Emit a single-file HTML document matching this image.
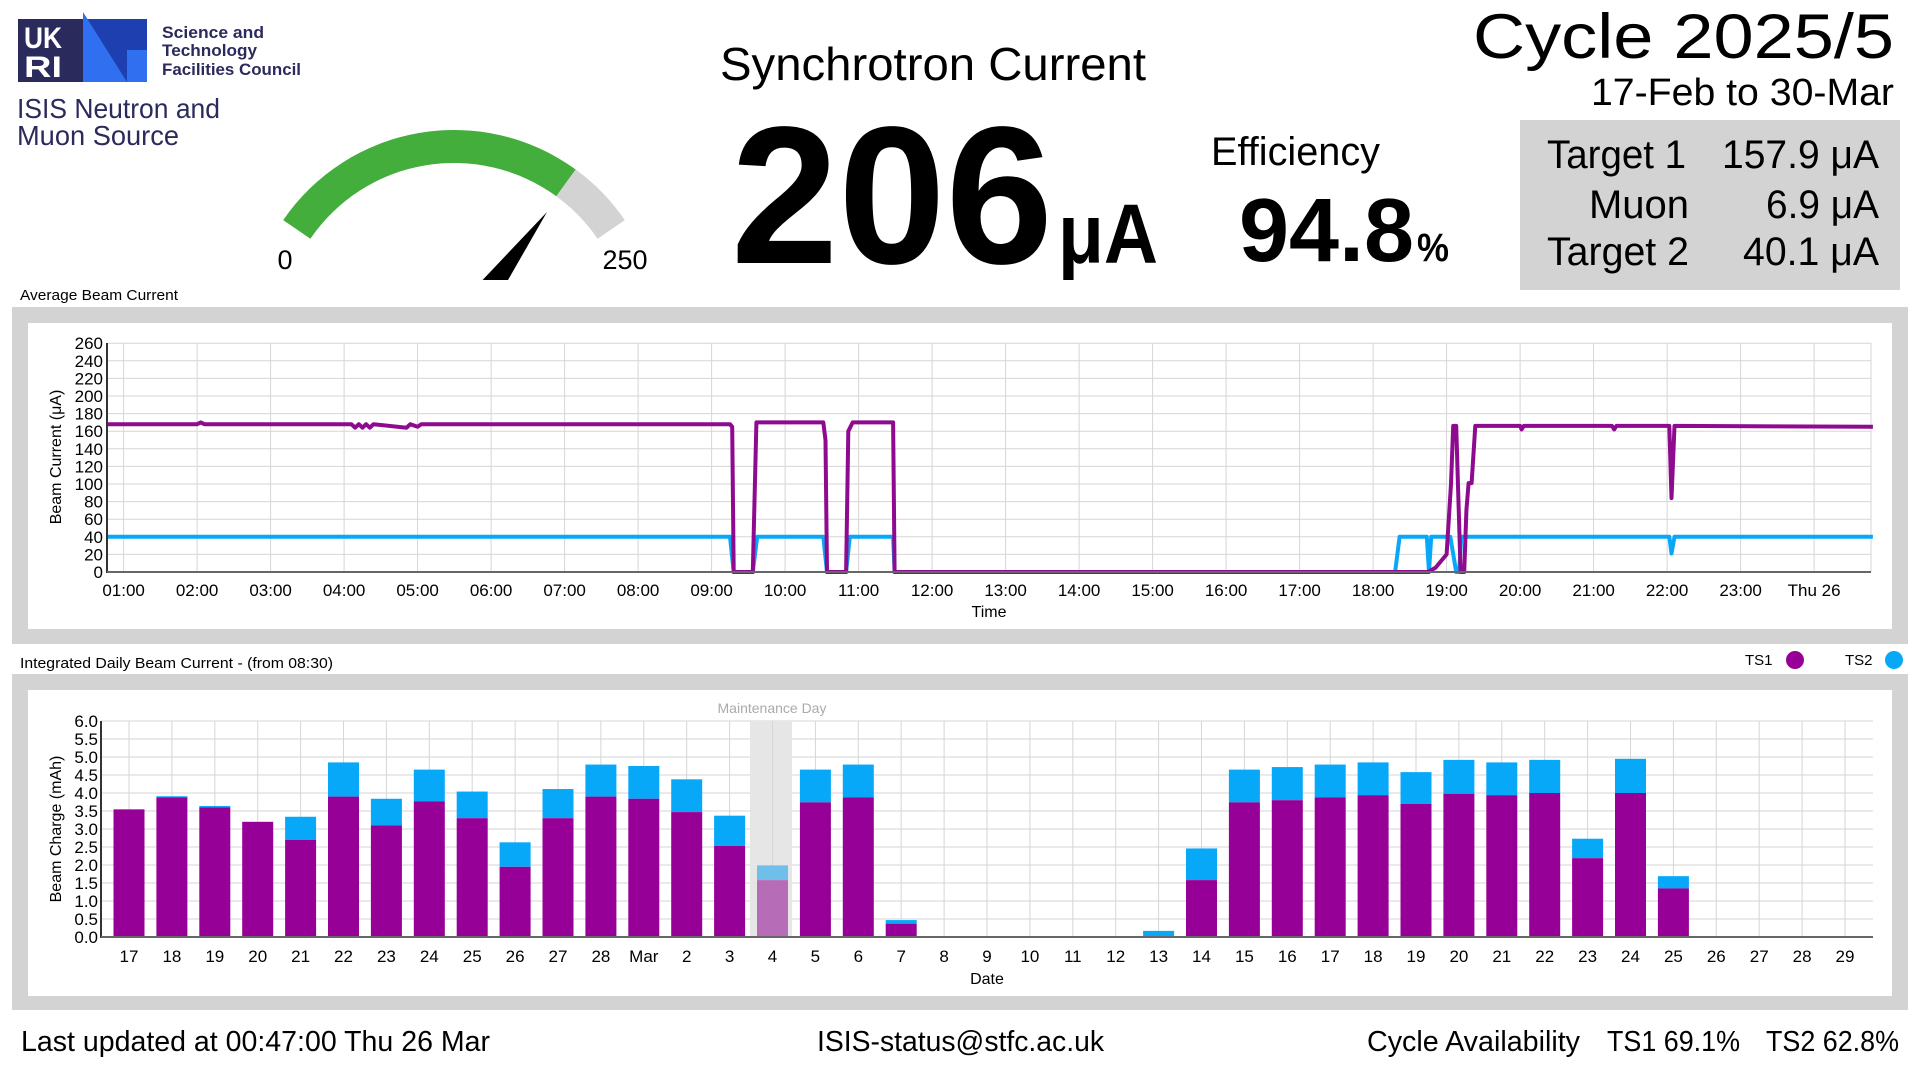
<!DOCTYPE html>
<html><head><meta charset="utf-8"><style>
html,body{margin:0;padding:0;background:#fff;width:1920px;height:1080px;overflow:hidden}
svg{display:block}
text{font-family:"Liberation Sans",sans-serif;}
</style></head><body>
<svg id="s" width="1920" height="1080" viewBox="0 0 1920 1080" xmlns="http://www.w3.org/2000/svg">
<rect width="1920" height="1080" fill="#fff"/>
<!-- logo -->
<rect x="18" y="19" width="65" height="63" fill="#2b2a5c"/>
<rect x="83" y="19" width="64" height="63" fill="#1d3fb0"/>
<polygon points="83,12 83,82 127,82" fill="#2f6ff0"/>
<rect x="127" y="50" width="20" height="32" fill="#2f6ff0"/>
<text x="24" y="48" font-size="30" font-weight="bold" fill="#fff" textLength="38" lengthAdjust="spacingAndGlyphs">UK</text>
<text x="24" y="77" font-size="30" font-weight="bold" fill="#fff" textLength="38" lengthAdjust="spacingAndGlyphs">RI</text>
<g fill="#2b2a5c" font-weight="bold" font-size="17">
<text x="162" y="38" textLength="102" lengthAdjust="spacingAndGlyphs">Science and</text>
<text x="162" y="56" textLength="95" lengthAdjust="spacingAndGlyphs">Technology</text>
<text x="162" y="75" textLength="139" lengthAdjust="spacingAndGlyphs">Facilities Council</text>
</g>
<g fill="#2b2a5c" font-size="28">
<text x="17" y="118" textLength="203" lengthAdjust="spacingAndGlyphs">ISIS Neutron and</text>
<text x="17" y="145" textLength="162" lengthAdjust="spacingAndGlyphs">Muon Source</text>
</g>
<!-- gauge -->
<path d="M283.2,220.1 A207,207 0 0 1 575.7,169.5 L556.3,196.2 A174,174 0 0 0 310.4,238.7 Z" fill="#43ae3c"/>
<path d="M575.7,169.5 A207,207 0 0 1 624.8,220.1 L597.6,238.7 A174,174 0 0 0 556.3,196.2 Z" fill="#d3d3d3"/>
<clipPath id="gc"><rect x="0" y="0" width="800" height="280"/></clipPath>
<polygon points="547,212 469,348 439,326" fill="#000" clip-path="url(#gc)"/>
<text x="285" y="269" font-size="27" text-anchor="middle">0</text>
<text x="625" y="269" font-size="27" text-anchor="middle">250</text>
<!-- header -->
<text x="720" y="80" font-size="46" textLength="426" lengthAdjust="spacingAndGlyphs">Synchrotron Current</text>
<text x="731" y="263" font-size="196" font-weight="bold" textLength="322" lengthAdjust="spacingAndGlyphs">206</text>
<text x="1058" y="263" font-size="84" font-weight="bold" textLength="100" lengthAdjust="spacingAndGlyphs">μA</text>
<text x="1211" y="165" font-size="40" textLength="169" lengthAdjust="spacingAndGlyphs">Efficiency</text>
<text x="1239" y="261" font-size="90" font-weight="bold" textLength="175" lengthAdjust="spacingAndGlyphs">94.8</text>
<text x="1417" y="261" font-size="40" font-weight="bold" textLength="32" lengthAdjust="spacingAndGlyphs">%</text>
<text x="1894" y="58" font-size="63" text-anchor="end" textLength="421" lengthAdjust="spacingAndGlyphs">Cycle 2025/5</text>
<text x="1894" y="105" font-size="38" text-anchor="end" textLength="303" lengthAdjust="spacingAndGlyphs">17-Feb to 30-Mar</text>
<rect x="1520" y="120" width="380" height="170" fill="#d3d3d3"/>
<g font-size="40">
<text x="1686" y="168" text-anchor="end" textLength="139" lengthAdjust="spacingAndGlyphs">Target 1</text>
<text x="1689" y="218" text-anchor="end" textLength="100" lengthAdjust="spacingAndGlyphs">Muon</text>
<text x="1689" y="265" text-anchor="end" textLength="142" lengthAdjust="spacingAndGlyphs">Target 2</text>
<text x="1879" y="168" text-anchor="end" textLength="157" lengthAdjust="spacingAndGlyphs">157.9 μA</text>
<text x="1879" y="218" text-anchor="end" textLength="113" lengthAdjust="spacingAndGlyphs">6.9 μA</text>
<text x="1879" y="265" text-anchor="end" textLength="136" lengthAdjust="spacingAndGlyphs">40.1 μA</text>
</g>
<!-- chart 1 -->
<text x="20" y="300" font-size="15" textLength="158" lengthAdjust="spacingAndGlyphs">Average Beam Current</text>
<rect x="12" y="307" width="1896" height="337" fill="#d3d3d3"/>
<rect x="28" y="323" width="1864" height="306" fill="#fff"/>
<g id="c1"></g>
<text x="989" y="617" font-size="16" text-anchor="middle">Time</text>
<text transform="translate(61,457) rotate(-90)" font-size="16" text-anchor="middle">Beam Current (μA)</text>
<!-- chart 2 -->
<text x="20" y="668" font-size="15" textLength="313" lengthAdjust="spacingAndGlyphs">Integrated Daily Beam Current - (from 08:30)</text>
<text x="1745" y="665" font-size="15">TS1</text>
<circle cx="1795" cy="660" r="9" fill="#960096"/>
<text x="1845" y="665" font-size="15">TS2</text>
<circle cx="1894" cy="660" r="9" fill="#08a8f8"/>
<rect x="12" y="674" width="1896" height="336" fill="#d3d3d3"/>
<rect x="28" y="690" width="1864" height="306" fill="#fff"/>
<g id="c2"></g>
<text x="987" y="984" font-size="16" text-anchor="middle">Date</text>
<text transform="translate(61,829) rotate(-90)" font-size="16" text-anchor="middle">Beam Charge (mAh)</text>
<!-- footer -->
<g font-size="29">
<text x="21" y="1051" textLength="469" lengthAdjust="spacingAndGlyphs">Last updated at 00:47:00 Thu 26 Mar</text>
<text x="817" y="1051" textLength="287" lengthAdjust="spacingAndGlyphs">ISIS-status@stfc.ac.uk</text>
<text x="1367" y="1051" textLength="213" lengthAdjust="spacingAndGlyphs">Cycle Availability</text>
<text x="1607" y="1051" textLength="133" lengthAdjust="spacingAndGlyphs">TS1 69.1%</text>
<text x="1766" y="1051" textLength="133" lengthAdjust="spacingAndGlyphs">TS2 62.8%</text>
</g>
</svg>
<script>
var NS="http://www.w3.org/2000/svg";
function el(p,t,a,txt){var e=document.createElementNS(NS,t);for(var k in a)e.setAttribute(k,a[k]);if(txt!=null)e.textContent=txt;p.appendChild(e);return e;}
// chart1
var c1=document.getElementById('c1');
var L=107,R=1871,T=343,B=572;
function X(h){return 123.6+(h-1)*73.5;}
function Y(v){return B-v*0.88;}
for(var v=0;v<=260;v+=20){el(c1,'line',{x1:L,x2:R,y1:Y(v),y2:Y(v),stroke:'#d6d6d6','stroke-width':1});
 el(c1,'text',{x:103,y:Y(v)+6,'font-size':17,'text-anchor':'end'},String(v));}
var labs=['01:00','02:00','03:00','04:00','05:00','06:00','07:00','08:00','09:00','10:00','11:00','12:00','13:00','14:00','15:00','16:00','17:00','18:00','19:00','20:00','21:00','22:00','23:00','Thu 26'];
for(var i=0;i<24;i++){var x=X(i+1);el(c1,'line',{x1:x,x2:x,y1:T,y2:B,stroke:'#d6d6d6','stroke-width':1});
 el(c1,'text',{x:x,y:596,'font-size':17,'text-anchor':'middle'},labs[i]);}
el(c1,'line',{x1:R,x2:R,y1:T,y2:B,stroke:'#d6d6d6'});
var P=[[0.77,168],[2.0,168],[2.05,170],[2.1,168],[4.1,168],[4.15,164],[4.2,168],[4.25,164],[4.3,168],[4.35,164],[4.4,168],[4.85,164],[4.9,168],[5.0,165],[5.05,168],[9.25,168],[9.28,165],[9.30,0],[9.56,0],[9.61,170],[10.52,170],[10.55,150],[10.57,0],[10.83,0],[10.86,160],[10.92,170],[11.47,170],[11.49,0],[18.75,0],[18.85,5],[19.0,20],[19.06,100],[19.09,166],[19.13,166],[19.19,0],[19.24,0],[19.27,70],[19.3,101],[19.34,101],[19.39,166],[20.0,166],[20.02,162],[20.05,166],[21.25,166],[21.28,162],[21.31,166],[22.03,166],[22.06,84],[22.1,166],[24.8,165]];
var C=[[0.77,40],[9.25,40],[9.30,0],[9.56,0],[9.62,40],[10.52,40],[10.57,0],[10.83,0],[10.88,40],[11.47,40],[11.49,0],[18.3,0],[18.36,40],[18.73,40],[18.76,0],[18.79,40],[19.05,40],[19.13,0],[19.17,0],[19.2,40],[22.03,40],[22.06,21],[22.1,40],[24.8,40]];
function pts(a){return a.map(function(p){return X(p[0]).toFixed(1)+','+Y(p[1]).toFixed(1);}).join(' ');}
el(c1,'polyline',{points:pts(C),fill:'none',stroke:'#08a8f8','stroke-width':4,'stroke-linejoin':'round'});
el(c1,'polyline',{points:pts(P),fill:'none',stroke:'#8e0a8e','stroke-width':4,'stroke-linejoin':'round'});
el(c1,'line',{x1:L,x2:L,y1:T,y2:B+1,stroke:'#333','stroke-width':2});
el(c1,'line',{x1:L,x2:R,y1:B,y2:B,stroke:'#666','stroke-width':2});
// chart2
var c2=document.getElementById('c2');
var L2=101,R2=1873,T2=721,B2=937;
function Y2(v){return B2-v*36;}
function X2(i){return 129+i*42.9;}
for(var k=0;k<=12;k++){var y=Y2(k*0.5);el(c2,'line',{x1:L2,x2:R2,y1:y,y2:y,stroke:'#d6d6d6'});
 el(c2,'text',{x:98,y:y+6,'font-size':17,'text-anchor':'end'},(k*0.5).toFixed(1));}
el(c2,'rect',{x:750,y:T2,width:42,height:B2-T2,fill:'#e6e6e6'});
el(c2,'text',{x:772,y:713,'font-size':14,'text-anchor':'middle',fill:'#aaa'},'Maintenance Day');
var dl=['17','18','19','20','21','22','23','24','25','26','27','28','Mar'];for(var d=2;d<=29;d++)dl.push(String(d));
var pu=[3.54,3.88,3.6,3.2,2.7,3.9,3.1,3.77,3.3,1.95,3.3,3.9,3.84,3.47,2.53,1.58,3.74,3.88,0.37,0,0,0,0,0,0,1.58,3.74,3.8,3.88,3.94,3.7,3.98,3.94,4.0,2.19,4.0,1.35,0,0,0,0];
var tot=[3.55,3.91,3.64,3.2,3.34,4.85,3.84,4.65,4.04,2.63,4.11,4.79,4.75,4.38,3.37,1.99,4.65,4.79,0.47,0,0,0,0,0,0.17,2.46,4.65,4.72,4.79,4.85,4.58,4.92,4.85,4.92,2.73,4.95,1.69,0,0,0,0];
for(var i=0;i<41;i++){var x=X2(i);el(c2,'line',{x1:x,x2:x,y1:T2,y2:B2,stroke:'#d6d6d6'});
 el(c2,'text',{x:x,y:962,'font-size':17,'text-anchor':'middle'},dl[i]);}
for(var i=0;i<41;i++){var x=X2(i)-15.5;var m=(i==15);
 if(tot[i]>pu[i])el(c2,'rect',{x:x,y:Y2(tot[i]),width:31,height:(tot[i]-pu[i])*36,fill:m?'#6fbfea':'#08a8f8'});
 if(pu[i]>0)el(c2,'rect',{x:x,y:Y2(pu[i]),width:31,height:pu[i]*36,fill:m?'#b66cb6':'#960096'});}
el(c2,'line',{x1:L2,x2:L2,y1:T2,y2:B2+1,stroke:'#333','stroke-width':2});
el(c2,'line',{x1:L2,x2:R2,y1:B2,y2:B2,stroke:'#666','stroke-width':2});
</script>
</body></html>
